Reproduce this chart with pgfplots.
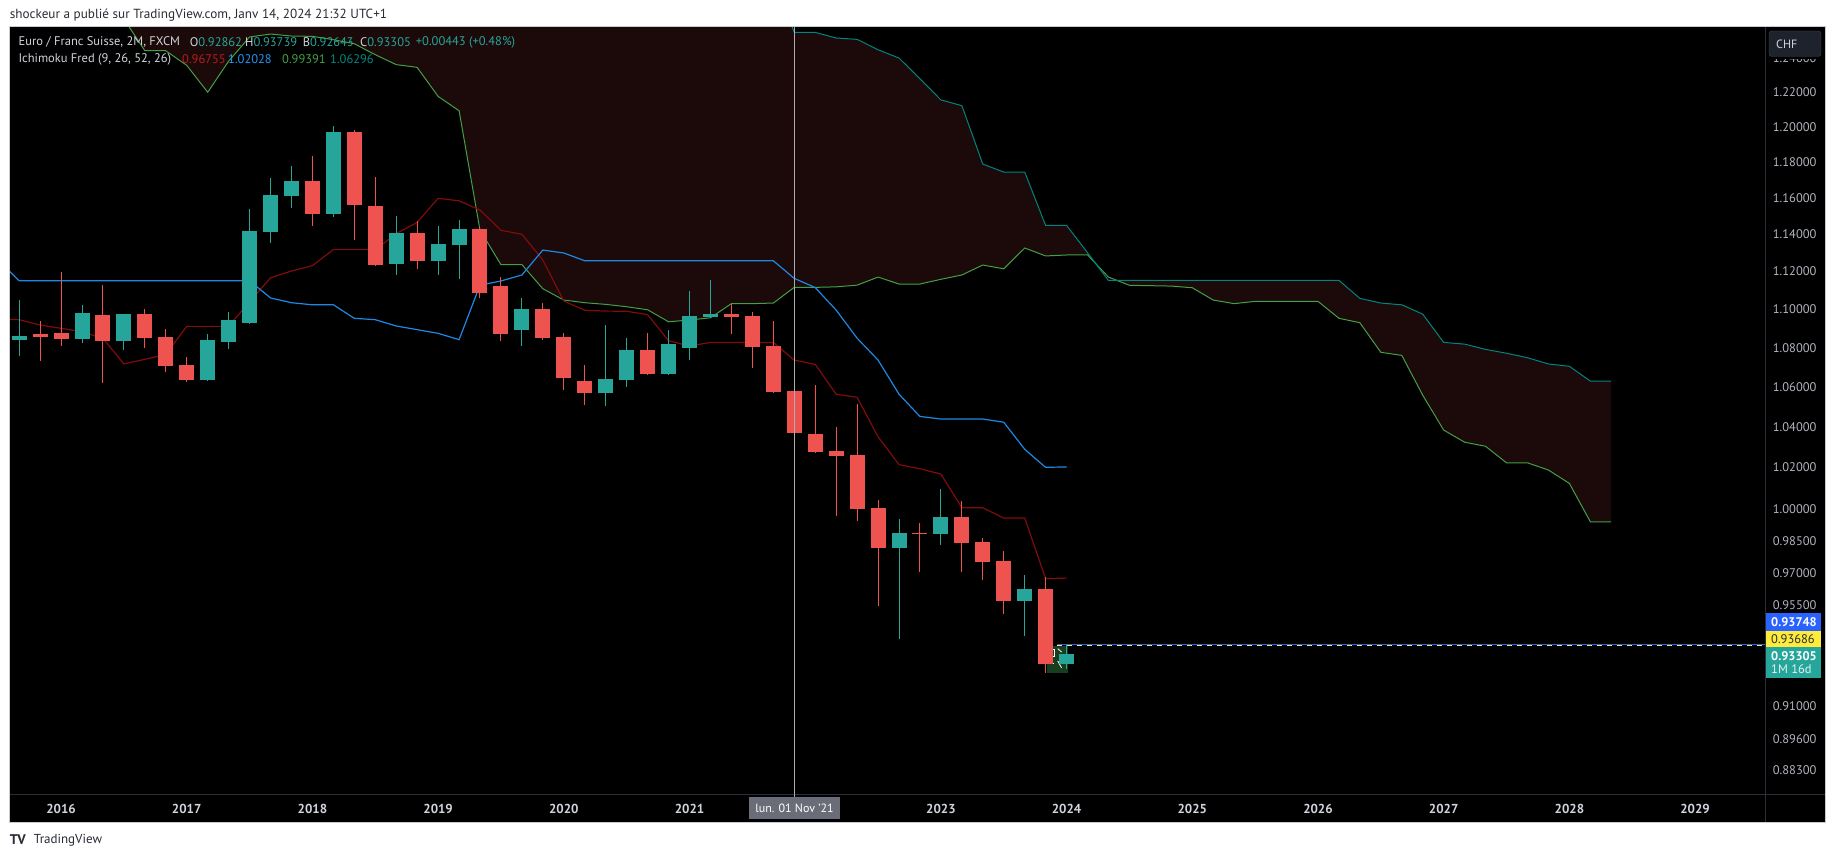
\documentclass[border=0pt]{standalone}
\usepackage{fontspec}
\setmainfont{PT Sans}
\usepackage{pgfplots}
\usepackage{pgfplotstable}
\pgfplotsset{compat=1.18}

\definecolor{cup}{RGB}{38,166,154}
\definecolor{cdown}{RGB}{239,83,80}
\definecolor{tenkan}{RGB}{128,12,12}
\definecolor{tenkantxt}{RGB}{183,28,28}
\definecolor{kijun}{RGB}{30,136,229}
\definecolor{kijuntxt}{RGB}{33,150,243}
\definecolor{spanA}{RGB}{67,160,71}
\definecolor{spanB}{RGB}{0,132,128}
\definecolor{spanBtxt}{RGB}{0,137,123}
\definecolor{kumo}{RGB}{28,9,9}
\definecolor{axtxt}{RGB}{178,181,190}
\definecolor{legtxt}{RGB}{209,212,220}
\definecolor{sepcol}{RGB}{42,46,57}
\definecolor{bordercol}{RGB}{200,203,210}
\definecolor{hdrcol}{RGB}{40,44,52}
\definecolor{crosscol}{RGB}{170,172,178}
\definecolor{crossbox}{RGB}{106,109,120}
\definecolor{chfbox}{RGB}{30,34,45}
\definecolor{chfborder}{RGB}{67,70,81}
\definecolor{lastblue}{RGB}{41,98,255}
\definecolor{lastyellow}{RGB}{255,235,59}
\definecolor{icongreen}{RGB}{24,62,32}

% 2-month candles: t (decimal year), open, high, low, close
\pgfplotstableread{
t o h l c
2015.667 1.0840 1.1049 1.0759 1.0861
2015.833 1.0871 1.0940 1.0733 1.0856
2016.000 1.0876 1.1198 1.0811 1.0845
2016.167 1.0845 1.1023 1.0823 1.0981
2016.333 1.0970 1.1128 1.0621 1.0837
2016.500 1.0837 1.0975 1.0790 1.0975
2016.667 1.0975 1.1002 1.0800 1.0850
2016.833 1.0856 1.0897 1.0677 1.0708
2017.000 1.0712 1.0753 1.0626 1.0637
2017.167 1.0637 1.0871 1.0632 1.0840
2017.333 1.0831 1.0986 1.0795 1.0944
2017.500 1.0930 1.1540 1.0925 1.1419
2017.667 1.1415 1.1712 1.1355 1.1617
2017.833 1.1613 1.1779 1.1547 1.1695
2018.000 1.1695 1.1835 1.1448 1.1514
2018.167 1.1514 1.2006 1.1497 1.1972
2018.333 1.1972 1.1983 1.1372 1.1563
2018.500 1.1556 1.1717 1.1232 1.1237
2018.667 1.1242 1.1501 1.1183 1.1408
2018.833 1.1408 1.1474 1.1214 1.1257
2019.000 1.1257 1.1446 1.1182 1.1348
2019.167 1.1343 1.1479 1.1160 1.1430
2019.333 1.1430 1.1441 1.1060 1.1086
2019.500 1.1123 1.1171 1.0835 1.0871
2019.667 1.0892 1.1060 1.0809 1.1002
2019.833 1.1002 1.1033 1.0840 1.0850
2020.000 1.0856 1.0876 1.0584 1.0645
2020.167 1.0630 1.0712 1.0509 1.0569
2020.333 1.0569 1.0918 1.0504 1.0640
2020.500 1.0635 1.0850 1.0600 1.0788
2020.667 1.0788 1.0876 1.0663 1.0666
2020.833 1.0666 1.0892 1.0660 1.0819
2021.000 1.0799 1.1097 1.0737 1.0965
2021.167 1.0960 1.1155 1.0955 1.0975
2021.333 1.0975 1.1028 1.0871 1.0960
2021.500 1.0965 1.0986 1.0696 1.0804
2021.667 1.0809 1.0939 1.0569 1.0574
2021.833 1.0579 1.0605 1.0326 1.0371
2022.000 1.0365 1.0610 1.0273 1.0276
2022.167 1.0281 1.0399 0.9967 1.0256
2022.333 1.0261 1.0514 0.9943 1.0000
2022.500 1.0005 1.0043 0.9548 0.9816
2022.667 0.9816 0.9952 0.9398 0.9886
2022.833 0.9886 0.9933 0.9704 0.9881
2023.000 0.9881 1.0096 0.9830 0.9962
2023.167 0.9962 1.0038 0.9704 0.9839
2023.333 0.9844 0.9863 0.9667 0.9750
2023.500 0.9755 0.9801 0.9511 0.9570
2023.667 0.9570 0.9690 0.9412 0.9625
2023.833 0.9625 0.9681 0.9247 0.9286
2024.000 0.92862 0.93739 0.92643 0.93305
}\candles

% Tenkan-sen
\pgfplotstableread{
t v
2015.500 1.0950
2015.667 1.0946
2015.833 1.0918
2016.000 1.0901
2016.167 1.0883
2016.333 1.0849
2016.500 1.0717
2016.667 1.0741
2016.833 1.0766
2017.000 1.0911
2017.167 1.0911
2017.333 1.0911
2017.500 1.1040
2017.667 1.1167
2017.833 1.1203
2018.000 1.1232
2018.167 1.1318
2018.333 1.1318
2018.500 1.1318
2018.667 1.1405
2018.833 1.1466
2019.000 1.1599
2019.167 1.1585
2019.333 1.1534
2019.500 1.1423
2019.667 1.1401
2019.833 1.1262
2020.000 1.1044
2020.167 1.0995
2020.333 1.0991
2020.500 1.0990
2020.667 1.0972
2020.833 1.0837
2021.000 1.0809
2021.167 1.0828
2021.333 1.0828
2021.500 1.0828
2021.667 1.0828
2021.833 1.0737
2022.000 1.0715
2022.167 1.0563
2022.333 1.0548
2022.500 1.0351
2022.667 1.0214
2022.833 1.0194
2023.000 1.0168
2023.167 1.0006
2023.333 1.0006
2023.500 0.9957
2023.667 0.9957
2023.833 0.9673
2024.000 0.96755
}\tblTenkan

% Kijun-sen
\pgfplotstableread{
t v
2015.500 1.1261
2015.667 1.1151
2015.833 1.1151
2016.000 1.1151
2016.167 1.1151
2016.333 1.1151
2016.500 1.1151
2016.667 1.1151
2016.833 1.1151
2017.000 1.1151
2017.167 1.1151
2017.333 1.1151
2017.500 1.1151
2017.667 1.1060
2017.833 1.1035
2018.000 1.1024
2018.167 1.1024
2018.333 1.0953
2018.500 1.0946
2018.667 1.0913
2018.833 1.0894
2019.000 1.0875
2019.167 1.0842
2019.333 1.1128
2019.500 1.1150
2019.667 1.1182
2019.833 1.1316
2020.000 1.1300
2020.167 1.1258
2020.333 1.1258
2020.500 1.1258
2020.667 1.1258
2020.833 1.1258
2021.000 1.1258
2021.167 1.1258
2021.333 1.1258
2021.500 1.1258
2021.667 1.1258
2021.833 1.1164
2022.000 1.1115
2022.167 1.0996
2022.333 1.0850
2022.500 1.0737
2022.667 1.0563
2022.833 1.0452
2023.000 1.0439
2023.167 1.0439
2023.333 1.0439
2023.500 1.0423
2023.667 1.0289
2023.833 1.0201
2024.000 1.02028
}\tblKijun

% Senkou span A (displaced forward)
\pgfplotstableread{
t v
2015.667 1.3000
2015.833 1.3000
2016.000 1.3000
2016.167 1.3000
2016.333 1.3000
2016.500 1.2635
2016.667 1.2445
2016.833 1.2445
2017.000 1.2359
2017.167 1.2201
2017.333 1.2383
2017.500 1.2527
2017.667 1.2545
2017.833 1.2533
2018.000 1.2531
2018.167 1.2511
2018.333 1.2487
2018.500 1.2422
2018.667 1.2363
2018.833 1.2347
2019.000 1.2177
2019.167 1.2094
2019.333 1.1425
2019.500 1.1237
2019.667 1.1237
2019.833 1.1109
2020.000 1.1049
2020.167 1.1035
2020.333 1.1026
2020.500 1.1014
2020.667 1.0998
2020.833 1.0935
2021.000 1.0944
2021.167 1.0956
2021.333 1.1030
2021.500 1.1030
2021.667 1.1033
2021.833 1.1116
2022.000 1.1116
2022.167 1.1119
2022.333 1.1128
2022.500 1.1171
2022.667 1.1134
2022.833 1.1134
2023.000 1.1159
2023.167 1.1182
2023.333 1.1235
2023.500 1.1215
2023.667 1.1327
2023.833 1.1284
2024.000 1.1289
2024.167 1.1289
2024.333 1.1171
2024.500 1.1127
2024.667 1.1125
2024.833 1.1123
2025.000 1.1114
2025.167 1.1049
2025.333 1.1030
2025.500 1.1042
2025.667 1.1042
2025.833 1.1042
2026.000 1.1042
2026.167 1.0953
2026.333 1.0930
2026.500 1.0777
2026.667 1.0761
2026.833 1.0559
2027.000 1.0384
2027.167 1.0324
2027.333 1.0304
2027.500 1.0223
2027.667 1.0223
2027.833 1.0188
2028.000 1.0123
2028.167 0.99391
2028.333 0.99391
}\tblA

% Senkou span B (displaced forward)
\pgfplotstableread{
t v
2015.667 1.3000
2015.833 1.3000
2016.000 1.3000
2016.167 1.3000
2016.333 1.3000
2016.500 1.3000
2016.667 1.3000
2016.833 1.3000
2017.000 1.3000
2017.167 1.3000
2017.333 1.3000
2017.500 1.3000
2017.667 1.3000
2017.833 1.3000
2018.000 1.3000
2018.167 1.3000
2018.333 1.3000
2018.500 1.3000
2018.667 1.3000
2018.833 1.3000
2019.000 1.3000
2019.167 1.3000
2019.333 1.3000
2019.500 1.3000
2019.667 1.3000
2019.833 1.3000
2020.000 1.3000
2020.167 1.3000
2020.333 1.3000
2020.500 1.3000
2020.667 1.3000
2020.833 1.3000
2021.000 1.3000
2021.167 1.3000
2021.333 1.3000
2021.500 1.3000
2021.667 1.2890
2021.833 1.2555
2022.000 1.2555
2022.167 1.2521
2022.333 1.2513
2022.500 1.2451
2022.667 1.2402
2022.833 1.2280
2023.000 1.2157
2023.167 1.2123
2023.333 1.1790
2023.500 1.1745
2023.667 1.1745
2023.833 1.1450
2024.000 1.1450
2024.167 1.1301
2024.333 1.1153
2024.500 1.1153
2024.667 1.1153
2024.833 1.1153
2025.000 1.1153
2025.167 1.1153
2025.333 1.1153
2025.500 1.1153
2025.667 1.1153
2025.833 1.1153
2026.000 1.1153
2026.167 1.1153
2026.333 1.1058
2026.500 1.1033
2026.667 1.1024
2026.833 1.0975
2027.000 1.0828
2027.167 1.0819
2027.333 1.0792
2027.500 1.0772
2027.667 1.0749
2027.833 1.0717
2028.000 1.0705
2028.167 1.06296
2028.333 1.06296
}\tblB

\begin{document}
\begin{tikzpicture}[x=1pt,y=1pt]
\fill[white] (0,0) rectangle (1835,858);
\fill[black] (10,36) rectangle (1825,831);

\begin{axis}[
  at={(10pt,63pt)}, anchor=south west,
  scale only axis, width=1755.7pt, height=768pt,
  xmin=2015.594, xmax=2029.562,
  ymode=log, ymin=0.8724, ymax=1.2587,
  log origin y=infty,
  axis background/.style={fill=black},
  axis line style={draw=none},
  tick style={draw=none},
  major tick length=0pt, minor tick length=0pt,
  xtick={2016,2017,2018,2019,2020,2021,2023,2024,2025,2026,2027,2028,2029},
  xticklabels={2016,2017,2018,2019,2020,2021,2023,2024,2025,2026,2027,2028,2029},
  xticklabel style={anchor=center, inner sep=0pt, yshift=-13.5pt,
    font=\fontsize{13}{15}\selectfont\bfseries, text=legtxt},
  ytick={0.883,0.896,0.91,0.955,0.97,0.985,1.00,1.02,1.04,1.06,1.08,1.10,1.12,1.14,1.16,1.18,1.20,1.22,1.24},
  yticklabels={0.88300,0.89600,0.91000,0.95500,0.97000,0.98500,1.00000,1.02000,1.04000,1.06000,1.08000,1.10000,1.12000,1.14000,1.16000,1.18000,1.20000,1.22000,1.24000},
  yticklabel pos=right,
  yticklabel style={anchor=west, inner sep=0pt, xshift=7pt,
    font=\fontsize{12.5}{14}\selectfont, text=axtxt},
  clip=true,
]
% Ichimoku cloud: area under span B in cloud colour, then area under span A in black
\addplot[fill=kumo, draw=none, forget plot] table[x=t,y=v]{\tblB} \closedcycle;
\addplot[fill=black, draw=none, forget plot] table[x=t,y=v]{\tblA} \closedcycle;
\addplot[spanA, line width=1pt, forget plot] table[x=t,y=v]{\tblA};
\addplot[spanB, line width=1pt, forget plot] table[x=t,y=v]{\tblB};
\addplot[tenkan, line width=1.2pt, forget plot] table[x=t,y=v]{\tblTenkan};
\addplot[kijun, line width=1.2pt, forget plot] table[x=t,y=v]{\tblKijun};

% icon behind last candle
\fill[icongreen] (axis cs:2023.846,0.9367) rectangle (axis cs:2024.014,0.9247);
\draw[white, line width=0.8pt] (axis cs:2023.87,0.9350) -- (axis cs:2023.90,0.9350) -- (axis cs:2023.90,0.9320) -- (axis cs:2023.87,0.9320) -- (axis cs:2023.87,0.9290) -- (axis cs:2023.90,0.9290);
\draw[white, line width=0.8pt] (axis cs:2023.93,0.9355) -- (axis cs:2023.96,0.9340) (axis cs:2023.93,0.9300) -- (axis cs:2023.96,0.9270);

% candles
\pgfplotsforeachungrouped \i in {0,...,50}{%
  \pgfplotstablegetelem{\i}{t}\of\candles\edef\ct{\pgfplotsretval}%
  \pgfplotstablegetelem{\i}{o}\of\candles\edef\co{\pgfplotsretval}%
  \pgfplotstablegetelem{\i}{h}\of\candles\edef\ch{\pgfplotsretval}%
  \pgfplotstablegetelem{\i}{l}\of\candles\edef\cl{\pgfplotsretval}%
  \pgfplotstablegetelem{\i}{c}\of\candles\edef\cc{\pgfplotsretval}%
  \ifdim\cc pt<\co pt\def\cfill{cdown}\else\def\cfill{cup}\fi
  \edef\next{%
    \noexpand\addplot[forget plot, draw=\cfill, line width=1pt] coordinates {(\ct,\cl) (\ct,\ch)};%
    \noexpand\addplot[forget plot, draw=\cfill, line width=15pt] coordinates {(\ct,\co) (\ct,\cc)};%
  }\next
}

% last-price lines
\addplot[lastblue, line width=1pt, forget plot] coordinates {(2023.92,0.93748) (2029.562,0.93748)};
\addplot[lastyellow, line width=1pt, dash pattern=on 5pt off 5pt, forget plot] coordinates {(2023.92,0.93686) (2029.562,0.93686)};
\end{axis}

% separators and crosshair
\draw[sepcol, line width=1pt] (10,63) -- (1825,63);
\draw[sepcol, line width=1pt] (1765.7,36) -- (1765.7,831);
\draw[crosscol, line width=1pt] (794.2,61) -- (794.2,831);
\fill[crossbox] (749,39) rectangle (840,61);
\node[anchor=center, inner sep=0pt, text=white, font=\fontsize{12}{14}\selectfont] at (794.5,50) {lun. 01 Nov '21};

% outer border
\draw[bordercol, line width=1pt] (9.5,35.5) rectangle (1825.5,831.5);

% CHF box
\fill[black] (1767,798.5) rectangle (1823,803);
\draw[chfborder, fill=chfbox, rounded corners=3pt] (1769,801.5) rectangle (1821,827);
\node[anchor=west, inner sep=0pt, text=legtxt, font=\fontsize{12}{14}\selectfont] at (1776,814) {CHF};

% price badges
\fill[lastblue] (1765.7,227.3) rectangle (1821,245.3);
\node[anchor=west, inner sep=0pt, text=white, font=\fontsize{12.5}{14}\selectfont\bfseries] at (1771,236.3) {0.93748};
\fill[lastyellow] (1765.7,210.7) rectangle (1821,227.3);
\node[anchor=west, inner sep=0pt, text=hdrcol, font=\fontsize{12.5}{14}\selectfont] at (1771,219) {0.93686};
\fill[cup] (1765.7,179.7) rectangle (1821,210.7);
\node[anchor=west, inner sep=0pt, text=white, font=\fontsize{12.5}{14}\selectfont\bfseries] at (1771,202.3) {0.93305};
\node[anchor=west, inner sep=0pt, text={rgb,255:red,224;green,242;blue,241}, font=\fontsize{12.5}{14}\selectfont] at (1771,188.7) {1M 16d};

% legend
\begin{scope}[every node/.style={anchor=west, inner sep=0pt, font=\fontsize{12.5}{14}\selectfont}]
\node[text=legtxt] at (18.4,816) {Euro / Franc Suisse, 2M, FXCM};
\node at (189.7,816) {\textcolor{legtxt}{O}\textcolor{cup}{0.92862}};
\node at (245,816) {\textcolor{legtxt}{H}\textcolor{cup}{0.93739}};
\node at (302.7,816) {\textcolor{legtxt}{B}\textcolor{cup}{0.92643}};
\node at (360,816) {\textcolor{legtxt}{C}\textcolor{cup}{0.93305}};
\node[text=cup] at (415.7,816) {+0.00443 (+0.48\%)};
\node[text=legtxt] at (18.4,799) {Ichimoku Fred (9, 26, 52, 26)};
\node[text=tenkantxt] at (182,799) {0.96755};
\node[text=kijuntxt] at (228,799) {1.02028};
\node[text=spanA] at (282,799) {0.99391};
\node[text=spanBtxt] at (330,799) {1.06296};
\end{scope}

% header and footer
\node[anchor=west, inner sep=0pt, text=hdrcol, font=\fontsize{13.2}{15}\selectfont] at (9.6,843) {shockeur a publié sur TradingView.com, Janv 14, 2024 21:32 UTC+1};
\node[anchor=west, inner sep=0pt, text=hdrcol, font=\fontsize{14}{15}\selectfont\bfseries] at (9.6,18) {TV};
\node[anchor=west, inner sep=0pt, text=hdrcol, font=\fontsize{13}{15}\selectfont] at (33.7,18) {TradingView};

\pgfresetboundingbox
\path[use as bounding box] (0,0) rectangle (1835,858);
\end{tikzpicture}
\end{document}
